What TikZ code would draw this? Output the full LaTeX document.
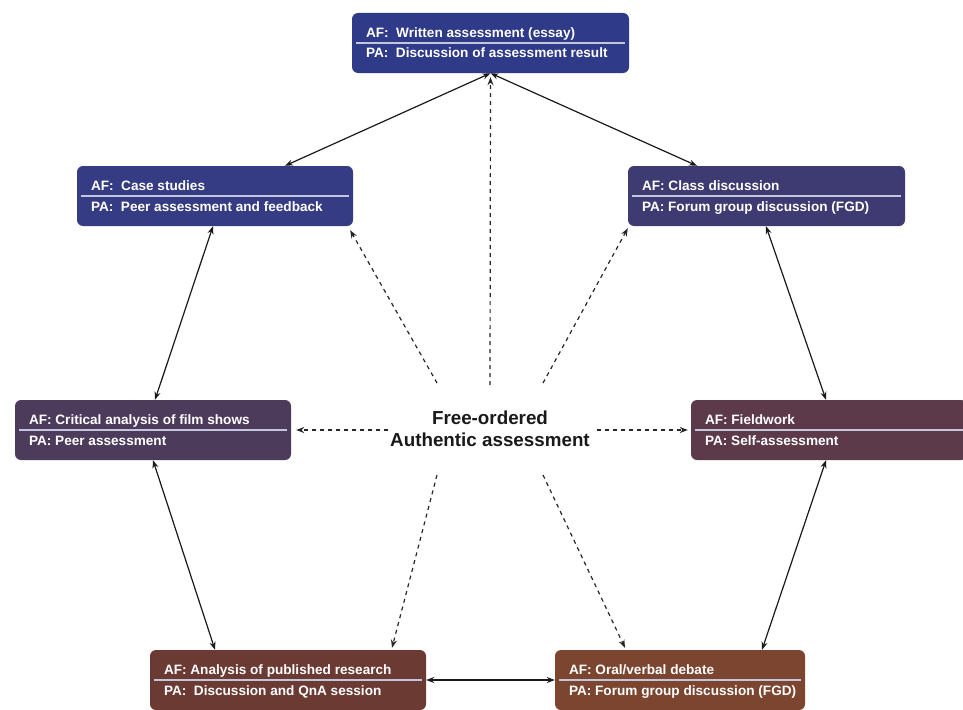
\documentclass[tikz,border=0pt]{standalone}
\usepackage{fontspec}
\setmainfont{Liberation Sans}
\usetikzlibrary{arrows.meta}
\definecolor{cTop}{HTML}{2F3A88}
\definecolor{cCase}{HTML}{363C84}
\definecolor{cClass}{HTML}{3E3B72}
\definecolor{cCrit}{HTML}{4D3B5C}
\definecolor{cField}{HTML}{5C3A4A}
\definecolor{cAnal}{HTML}{6B3A33}
\definecolor{cOral}{HTML}{7B4530}
\definecolor{cSep}{HTML}{C4C6DC}
\tikzset{
  box/.style={draw=none, fill=#1, rounded corners=6pt, minimum height=60pt, inner sep=0pt},
  septxt/.style={draw=cSep, line width=1.4pt},
  txt/.style={text=white, font=\bfseries\fontsize{13.6}{15}\selectfont, inner sep=0pt},
  solidarrow/.style={{Stealth[length=8pt,width=6pt]}-{Stealth[length=8pt,width=6pt]}, line width=1.2pt, draw=black!90},
  dasharrow/.style={-{Stealth[length=8pt,width=6pt]}, line width=1.2pt, draw=black!85, dash pattern=on 4pt off 4pt},
  centertxt/.style={font=\bfseries\fontsize{18.8}{22}\selectfont, align=center, text=black!90}
}
\newcommand\AFbox[7]{%
  \node[box=#5, minimum width=#4pt] (#1) at (#2,#3) {};
  \draw[septxt] ([xshift=4pt]#1.west) -- ([xshift=-4pt]#1.east);
  \node[txt, anchor=base west] (#1-af) at ([xshift=14pt, yshift=5.5pt]#1.west) {#6};
  \node[txt, anchor=base west] (#1-pa) at ([xshift=14pt, yshift=-15pt]#1.west) {#7};
}
\begin{document}
\begin{tikzpicture}[x=1pt, y=-1pt]
\useasboundingbox (0,0) rectangle (963,709);
\AFbox{top}{490.5}{43}{277}{cTop}{AF:\ \ Written assessment (essay)}{PA:\ \ Discussion of assessment result}
\AFbox{case}{215}{196}{276}{cCase}{AF:\ \ Case studies}{PA:\ \ Peer assessment and feedback}
\AFbox{class}{766.5}{196}{277}{cClass}{AF: Class discussion}{PA: Forum group discussion (FGD)}
\AFbox{crit}{153}{430}{276}{cCrit}{AF: Critical analysis of film shows}{PA: Peer assessment}
\AFbox{field}{829}{430}{276}{cField}{AF: Fieldwork}{PA: Self-assessment}
\AFbox{anal}{288}{680}{276}{cAnal}{AF: Analysis of published research}{PA:\ \ Discussion and QnA session}
\AFbox{oral}{680}{680}{250}{cOral}{AF: Oral/verbal debate}{PA: Forum group discussion (FGD)}

\node[centertxt] (center) at (490,429) {Free-ordered\\Authentic assessment};

% solid double arrows
\draw[solidarrow] (top.south) -- ([xshift=70pt]case.north);
\draw[solidarrow] (top.south) -- ([xshift=-69.5pt]class.north);
\draw[solidarrow] ([xshift=-2pt]case.south) -- ([xshift=2pt]crit.north);
\draw[solidarrow] ([xshift=-0.5pt]class.south) -- ([xshift=-3pt]field.north);
\draw[solidarrow] (crit.south) -- ([xshift=-73pt]anal.north);
\draw[solidarrow] ([xshift=-3pt]field.south) -- ([xshift=82pt]oral.north);
\draw[solidarrow] (anal.east) -- (oral.west);

% dashed arrows from the centre
\coordinate (d1) at (490,385);
\coordinate (d2) at (437,383);
\coordinate (d3) at (543,383);
\coordinate (d4) at (388,430);
\coordinate (d5) at (597,430);
\coordinate (d6) at (437,475);
\coordinate (d7) at (543,475);
\draw[dasharrow] (d1) -- ([yshift=-4pt]top.south);
\draw[dasharrow] (d2) -- ([xshift=-3pt,yshift=-4pt]case.south east);
\draw[dasharrow] (d3) -- ([xshift=0pt,yshift=-2pt]class.south west);
\draw[dasharrow] (d4) -- ([xshift=5pt]crit.east);
\draw[dasharrow] (d5) -- ([xshift=-3pt]field.west);
\draw[dasharrow] (d6) -- ([xshift=104pt,yshift=2pt]anal.north);
\draw[dasharrow] (d7) -- ([xshift=-55pt,yshift=2pt]oral.north);
\end{tikzpicture}
\end{document}
